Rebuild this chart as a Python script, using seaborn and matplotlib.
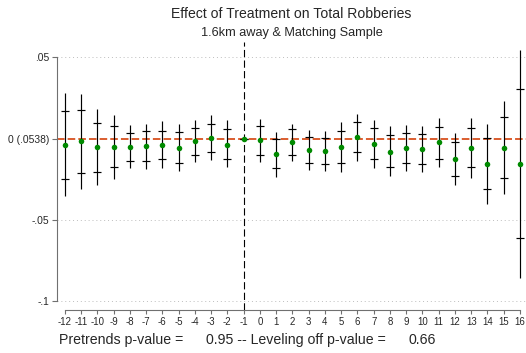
import matplotlib
matplotlib.use("Agg")
import matplotlib.pyplot as plt
import numpy as np
import pandas as pd
import seaborn as sns

# Event-time coefficients with 90% and 95% confidence bounds
periods = list(range(-12, 17))
coef = [-0.0040, -0.0017, -0.0054, -0.0052, -0.0050, -0.0048, -0.0040, -0.0057,
        -0.0015, 0.0003, -0.0036, 0.0000, -0.0011, -0.0095, -0.0023, -0.0069,
        -0.0075, -0.0050, 0.0009, -0.0032, -0.0079, -0.0057, -0.0063, -0.0023,
        -0.0126, -0.0058, -0.0155, -0.0057, -0.0157]
hi90 = [0.0171, 0.0173, 0.0097, 0.0075, 0.0036, 0.0044, 0.0050, 0.0038,
        0.0066, 0.0091, 0.0058, 0.0000, 0.0075, -0.0005, 0.0058, 0.0009,
        0.0005, 0.0048, 0.0100, 0.0063, 0.0022, 0.0032, 0.0030, 0.0073,
        -0.0020, 0.0063, 0.0001, 0.0130, 0.0303]
lo90 = [-0.0247, -0.0208, -0.0204, -0.0175, -0.0137, -0.0140, -0.0126, -0.0149,
        -0.0100, -0.0085, -0.0126, 0.0000, -0.0100, -0.0183, -0.0100, -0.0149,
        -0.0157, -0.0149, -0.0085, -0.0128, -0.0175, -0.0149, -0.0155, -0.0122,
        -0.0231, -0.0177, -0.0312, -0.0241, -0.0610]
hi95 = [0.0278, 0.0272, 0.0180, 0.0145, 0.0083, 0.0093, 0.0108, 0.0088,
        0.0114, 0.0143, 0.0114, 0.0000, 0.0122, 0.0042, 0.0091, 0.0054,
        0.0046, 0.0100, 0.0149, 0.0114, 0.0075, 0.0081, 0.0077, 0.0124,
        0.0036, 0.0126, 0.0087, 0.0229, 0.0544]
lo95 = [-0.0354, -0.0309, -0.0284, -0.0245, -0.0180, -0.0189, -0.0180, -0.0200,
        -0.0145, -0.0134, -0.0177, 0.0000, -0.0146, -0.0235, -0.0138, -0.0192,
        -0.0200, -0.0204, -0.0137, -0.0181, -0.0229, -0.0196, -0.0202, -0.0173,
        -0.0286, -0.0241, -0.0399, -0.0339, -0.0854]

y_ticks = [0.05, 0.0, -0.05, -0.1]
y_tick_labels = [".05", "0 (.0538)", "-.05", "-.1"]
x_tick_labels = [str(p) for p in periods]

title = "Effect of Treatment on Total Robberies"
subtitle = "1.6km away & Matching Sample"
pretrend_p = "0.95"
leveling_p = "0.66"

df = pd.DataFrame({"period": periods, "coef": coef,
                   "hi90": hi90, "lo90": lo90, "hi95": hi95, "lo95": lo95})

sns.set_style("white")
plt.rcParams["font.family"] = ["Liberation Sans", "DejaVu Sans"]

W, H = 526, 353
fig = plt.figure(figsize=(W / 100, H / 100), dpi=100)
ax = fig.add_axes([57 / W, (H - 310) / H, (W - 57) / W, (310 - 42) / H])

# light dotted grid at the labelled levels
for v in [0.05, -0.05, -0.1]:
    ax.axhline(v, color="#bdbdbd", lw=0.7, ls=(0, (1, 3)), zorder=0)
# zero reference line and the event-date marker
ax.axhline(0, color="#d8501f", lw=1.3, ls=(0, (4.2, 1.7)), zorder=1)
ax.axvline(-1, color="black", lw=0.8, ls=(0, (6.5, 3.0)), zorder=1)

# 95% intervals as lines, 90% bounds as short caps
ax.vlines(df["period"], df["lo95"], df["hi95"], color="black", lw=0.85, zorder=2)
ax.plot(df["period"], df["hi90"], ls="none", marker="_", ms=5.4, mew=0.85,
        color="black", zorder=3)
ax.plot(df["period"], df["lo90"], ls="none", marker="_", ms=5.4, mew=0.85,
        color="black", zorder=3)
sns.scatterplot(data=df, x="period", y="coef", color="#008a00", s=16,
                linewidth=0, ax=ax, zorder=4)

ax.set_xlim(-12.48, 16.37)
ax.set_ylim(-0.10523, 0.05935)
ax.set_xlabel("")
ax.set_ylabel("")

ax.set_xticks(periods)
ax.set_xticklabels(x_tick_labels, fontsize=6.9)
ax.set_yticks(y_ticks)
ax.set_yticklabels(y_tick_labels, fontsize=7.4)

for side in ["top", "right"]:
    ax.spines[side].set_visible(False)
axis_grey = "#707070"
ax.spines["left"].set_bounds(-0.1, 0.05)
ax.spines["bottom"].set_bounds(-12, 16)
for side in ["left", "bottom"]:
    ax.spines[side].set_color(axis_grey)
    ax.spines[side].set_linewidth(0.8)
ax.tick_params(axis="y", direction="out", length=3.8, width=0.8, color=axis_grey,
               pad=1.6, left=True)
ax.tick_params(axis="x", direction="out", length=3.0, width=0.8, color=axis_grey,
               pad=2.3, bottom=True)

cx = (57 + W) / 2 / W
fig.text(cx, 1 - 18.5 / H, title, ha="center", va="baseline", fontsize=10.1)
fig.text(cx, 1 - 36.2 / H, subtitle, ha="center", va="baseline", fontsize=9.2)

fy = 1 - 344.2 / H
fig.text(59.4 / W, fy, "Pretrends p-value =", ha="left", va="baseline", fontsize=10.2)
fig.text(206.4 / W, fy, pretrend_p + " -- Leveling off p-value =", ha="left",
         va="baseline", fontsize=10.2)
fig.text(408.7 / W, fy, leveling_p, ha="left", va="baseline", fontsize=10.2)

fig.savefig("out.png", dpi=100)
